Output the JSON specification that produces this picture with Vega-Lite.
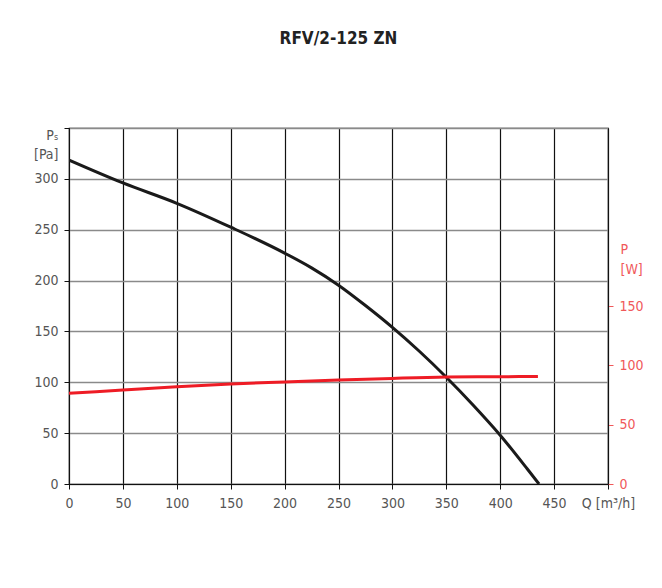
{
  "$schema": "https://vega.github.io/schema/vega-lite/v6.json",
  "autosize": "none",
  "width": 539,
  "height": 356,
  "padding": {"left": 69, "top": 128, "right": 54, "bottom": 104},
  "background": "white",
  "title": {
    "text": "RFV/2-125 ZN",
    "fontSize": 17,
    "fontWeight": "bold",
    "font": "Liberation Sans Narrow, DejaVu Sans Condensed, Roboto, sans-serif",
    "color": "#222222",
    "anchor": "middle",
    "offset": 80
  },
  "datasets": {
    "ps": [
      {"q": 0, "ps": 318.5},
      {"q": 50, "ps": 296},
      {"q": 100, "ps": 276},
      {"q": 150, "ps": 252.5},
      {"q": 200, "ps": 227},
      {"q": 225, "ps": 212.5},
      {"q": 250, "ps": 195.5},
      {"q": 275, "ps": 175.5},
      {"q": 300, "ps": 154},
      {"q": 325, "ps": 130.5},
      {"q": 350, "ps": 105},
      {"q": 375, "ps": 77.5},
      {"q": 400, "ps": 48},
      {"q": 425, "ps": 15},
      {"q": 436, "ps": 0}
    ],
    "pw": [
      {"q": 0, "p": 76.4},
      {"q": 50, "p": 79.2},
      {"q": 100, "p": 82},
      {"q": 150, "p": 84.3},
      {"q": 200, "p": 86},
      {"q": 250, "p": 87.6},
      {"q": 300, "p": 89},
      {"q": 350, "p": 90.1},
      {"q": 400, "p": 90.4},
      {"q": 435, "p": 90.6}
    ]
  },
  "config": {
    "font": "Liberation Sans Narrow, DejaVu Sans Condensed, Roboto, sans-serif",
    "view": {"stroke": "#111111", "strokeWidth": 1.2},
    "axis": {
      "labelFont": "Liberation Sans Narrow, DejaVu Sans Condensed, Roboto, sans-serif",
      "titleFont": "Liberation Sans Narrow, DejaVu Sans Condensed, Roboto, sans-serif",
      "labelFontSize": 14,
      "titleFontSize": 14,
      "titleFontWeight": "normal",
      "labelColor": "#555555",
      "titleColor": "#555555",
      "tickSize": 5,
      "labelPadding": 6
    }
  },
  "layer": [
    {
      "data": {"name": "ps"},
      "mark": {"type": "line", "color": "#1a1a1a", "strokeWidth": 3, "interpolate": "monotone", "clip": true},
      "encoding": {
        "x": {
          "field": "q",
          "type": "quantitative",
          "scale": {"domain": [0, 500], "nice": false},
          "axis": {
            "values": [0, 50, 100, 150, 200, 250, 300, 350, 400, 450, 500],
            "labelExpr": "datum.value == 500 ? 'Q [m³/h]' : datum.label",
            "title": null,
            "grid": true,
            "gridColor": "#111111",
            "gridWidth": 1.2,
            "domainColor": "#111111",
            "tickColor": "#111111",
            "labelPadding": 7,
            "labelFlush": false
          }
        },
        "y": {
          "field": "ps",
          "type": "quantitative",
          "scale": {"domain": [0, 350], "nice": false},
          "axis": {
            "values": [0, 50, 100, 150, 200, 250, 300, 350],
            "labelExpr": "datum.value == 350 ? '' : datum.label",
            "title": ["Pₛ", "[Pa]"],
            "titleAngle": 0,
            "titleAlign": "right",
            "titleBaseline": "alphabetic",
            "titleX": -11,
            "titleY": 11,
            "titleLineHeight": 19,
            "grid": true,
            "gridColor": "#8a8a8a",
            "gridWidth": 1.6,
            "domainColor": "#111111",
            "tickColor": "#111111"
          }
        }
      }
    },
    {
      "data": {"name": "pw"},
      "mark": {"type": "line", "color": "#ee1c25", "strokeWidth": 3, "interpolate": "monotone"},
      "encoding": {
        "x": {"field": "q", "type": "quantitative"},
        "y": {
          "field": "p",
          "type": "quantitative",
          "scale": {"domain": [0, 300], "nice": false},
          "axis": {
            "orient": "right",
            "values": [0, 50, 100, 150],
            "title": ["P", "[W]"],
            "titleAngle": 0,
            "titleAlign": "left",
            "titleBaseline": "alphabetic",
            "titleX": 12,
            "titleY": 125,
            "titleLineHeight": 20,
            "titleColor": "#f0585a",
            "labelColor": "#f0585a",
            "tickColor": "#f0585a",
            "domainColor": "#111111",
            "grid": false
          }
        }
      }
    }
  ],
  "resolve": {"scale": {"y": "independent"}}
}
